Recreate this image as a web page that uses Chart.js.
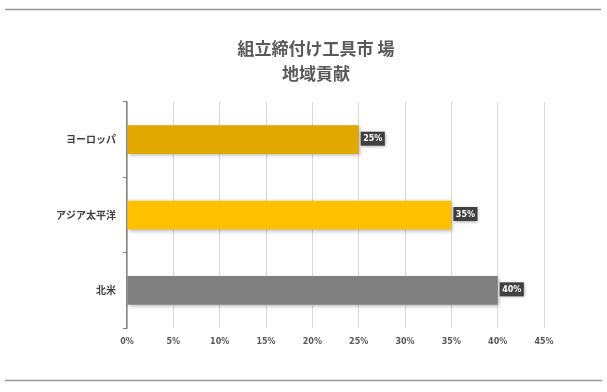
<!DOCTYPE html>
<html><head><meta charset="utf-8">
<script src="https://cdn.jsdelivr.net/npm/chart.js@4"></script>
<style>html,body{margin:0;padding:0;background:#fff;}#wrap{width:607px;height:392px;position:relative;}</style>
</head><body><div id="wrap"><canvas id="c" width="607" height="392"></canvas></div>
<script>
const categories = ["ヨーロッパ", "アジア太平洋", "北米"];
const shares = [25, 35, 40];
const barColors = ["#E0A800", "#FFC000", "#808080"];
const xTicks = [0, 5, 10, 15, 20, 25, 30, 35, 40, 45];
const titleLines = ["組立締付け工具市 場", "地域貢献"];
const FONT = "'Noto Sans CJK JP', 'Liberation Sans', sans-serif";

const framePlugin = {
  id: 'frame',
  beforeDraw(chart) {
    const ctx = chart.ctx;
    ctx.save();
    ctx.fillStyle = '#fff';
    ctx.fillRect(0, 0, chart.width, chart.height);
    ctx.strokeStyle = '#999';
    ctx.lineWidth = 1.5;
    ctx.beginPath();
    ctx.moveTo(5, 9.5); ctx.lineTo(601, 9.5);
    ctx.moveTo(5, 380.5); ctx.lineTo(602, 380.5);
    ctx.stroke();
    ctx.fillStyle = '#595959';
    ctx.font = "bold 17px " + FONT;
    ctx.textAlign = 'center';
    ctx.textBaseline = 'middle';
    ctx.fillText(titleLines[0], 316, 49);
    ctx.fillText(titleLines[1], 316, 74);
    ctx.restore();
  }
};

const shadowPlugin = {
  id: 'barShadow',
  beforeDatasetDraw(chart) {
    const ctx = chart.ctx;
    ctx.save();
    ctx.shadowColor = 'rgba(0,0,0,0.3)';
    ctx.shadowBlur = 4;
    ctx.shadowOffsetX = 1;
    ctx.shadowOffsetY = 1.5;
  },
  afterDatasetDraw(chart) {
    chart.ctx.restore();
  }
};

const labelPlugin = {
  id: 'valueLabels',
  afterDatasetsDraw(chart) {
    const ctx = chart.ctx;
    const meta = chart.getDatasetMeta(0);
    ctx.save();
    ctx.font = "bold 8px 'DejaVu Sans', sans-serif";
    meta.data.forEach((bar, i) => {
      const txt = shares[i] + '%';
      const w = ctx.measureText(txt).width + 5;
      const h = 14;
      const x = bar.x + 2;
      const y = bar.y - h / 2 - 1;
      ctx.shadowColor = 'rgba(0,0,0,0.35)';
      ctx.shadowBlur = 3;
      ctx.shadowOffsetX = 1;
      ctx.shadowOffsetY = 1;
      ctx.fillStyle = '#404040';
      ctx.fillRect(x, y, w, h);
      ctx.shadowColor = 'transparent';
      ctx.fillStyle = '#fff';
      ctx.textAlign = 'center';
      ctx.textBaseline = 'middle';
      ctx.fillText(txt, x + w / 2, y + h / 2 + 0.5);
    });
    ctx.restore();
  }
};

new Chart(document.getElementById('c'), {
  type: 'bar',
  data: {
    labels: categories,
    datasets: [{
      data: shares,
      backgroundColor: barColors,
      borderWidth: 0,
      barPercentage: 0.5,
      categoryPercentage: 0.76
    }]
  },
  options: {
    indexAxis: 'y',
    responsive: false,
    animation: false,
    devicePixelRatio: 1,
    layout: { padding: { left: 0, right: 63, top: 102, bottom: 0 } },
    plugins: { legend: { display: false }, title: { display: false }, tooltip: { enabled: false } },
    scales: {
      x: {
        min: 0, max: 45,
        afterBuildTicks(scale) { scale.ticks = xTicks.map(v => ({ value: v })); },
        afterFit(scale) { scale.height = 64; },
        grid: { color: '#d9d9d9', lineWidth: 1, drawTicks: false },
        border: { display: false },
        ticks: {
          padding: 9,
          color: '#595959',
          font: { family: "'DejaVu Sans', sans-serif", size: 8, weight: 'bold' },
          callback: v => v + '%'
        }
      },
      y: {
        afterFit(scale) { scale.width = 127; },
        grid: { drawOnChartArea: false, color: '#868686', tickLength: 4, offset: true },
        border: { display: true, color: '#868686', width: 1.5 },
        ticks: {
          padding: 7,
          color: '#404040',
          font: { family: FONT, size: 10, weight: 'bold' }
        }
      }
    }
  },
  plugins: [framePlugin, shadowPlugin, labelPlugin]
});
</script></body></html>
